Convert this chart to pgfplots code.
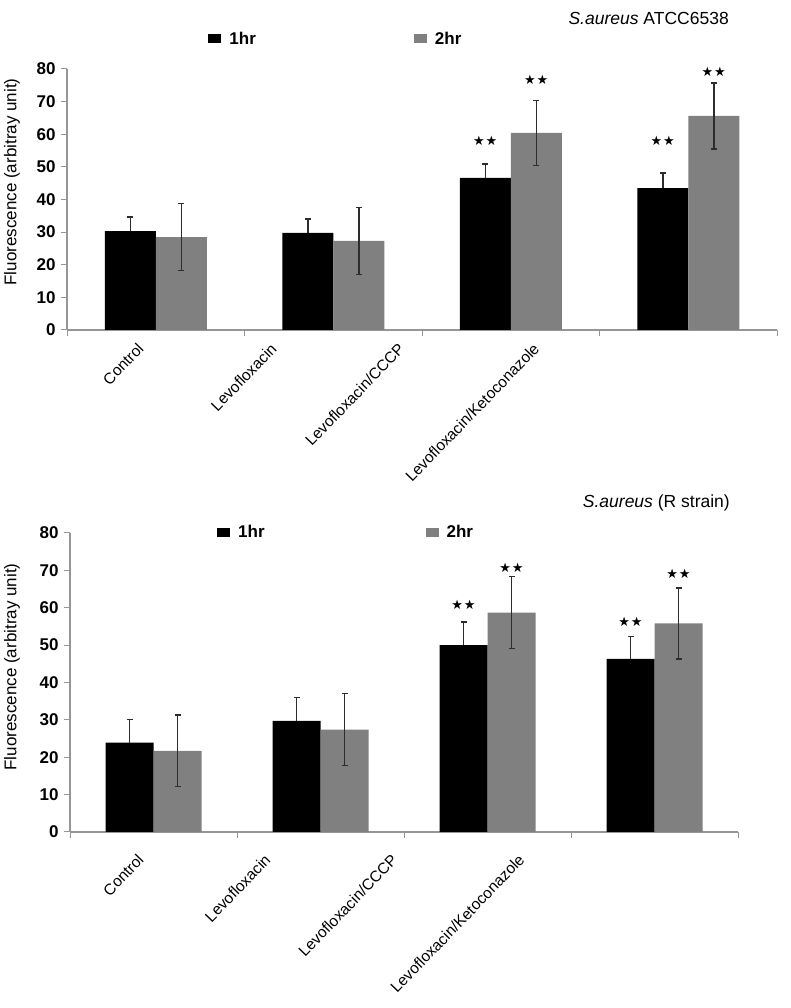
\documentclass[border=0pt]{standalone}
\usepackage{pgfplots}
\pgfplotsset{compat=1.18}
\usepackage{fontspec}
\setmainfont{Liberation Sans}
\newfontfamily\dejavu{DejaVu Sans}
\definecolor{bargray}{RGB}{128,128,128}
\definecolor{axgray}{RGB}{150,150,150}
\definecolor{errc}{RGB}{45,45,45}
\newcommand{\stars}{{\dejavu\fontsize{13}{13}\selectfont ★\hspace{1pt}★}}
\pgfplotsset{
  catlabels/.style={
    extra x tick labels={Control,Levofloxacin,Levofloxacin/CCCP,Levofloxacin/Ketoconazole},
    extra x tick style={major tick length=0pt,
      xticklabel style={xshift=-7pt, yshift=#1, rotate=46, anchor=north east, inner sep=0pt,
        font=\fontsize{15.5}{15.5}\selectfont}}},
  myaxis/.style={
    scale only axis, anchor=south west,
    xmin=0, xmax=4, ymin=0, ymax=80,
    ytick={0,10,...,80},
    xtick={0,1,2,3,4}, xticklabels={,,,,,},
    axis lines*=left,
    axis line style={axgray, line width=1.3pt},
    tick style={axgray, line width=1pt},
    major tick length=6pt,
    tick align=outside,
    /pgf/number format/assume math mode=true,
    yticklabel style={font=\fontsize{17}{17}\selectfont\bfseries, xshift=-2pt},
    ylabel={Fluorescence (arbitray unit)},
    ylabel style={font=\fontsize{17}{17}\selectfont, anchor=center},
    ybar, bar width=51pt,
    clip=false,
    legend columns=2,
    legend style={draw=none, fill=none, inner sep=0pt, anchor=west,
      font=\fontsize{17}{17}\selectfont\bfseries,
      /tikz/every even column/.append style={column sep=156pt},
      /tikz/every odd column/.append style={column sep=6pt}},
    legend image code/.code={\fill[##1] (0pt,-4.5pt) rectangle (13pt,4.5pt);},
  },
  ebplus/.style={error bars/.cd, y dir=plus, y explicit,
    error bar style={errc, line width=1.5pt},
    error mark options={rotate=90, mark size=3pt, errc, line width=1.3pt}},
  ebboth/.style={error bars/.cd, y dir=both, y explicit,
    error bar style={errc, line width=1.5pt},
    error mark options={rotate=90, mark size=3pt, errc, line width=1.3pt}},
}
\begin{document}
\begin{tikzpicture}[x=1pt,y=1pt]
\useasboundingbox (0,0) rectangle (791,1008);
% ---------------- top panel ----------------
\begin{axis}[myaxis, at={(67pt,678pt)}, width=710pt, height=261pt,
  bar width=51pt,
  extra x ticks={0.43,1.18,1.90,2.66}, catlabels=-12pt,
  ylabel style={at={(rel axis cs:-0.0775,0.567)}},
  legend style={at={(rel axis cs:0.199,1.115)}}]
\addplot[fill=black, draw=none, bar shift=-25.5pt, ebplus] coordinates {
  (0.5,30.3) +- (0,4.3)
  (1.5,29.8) +- (0,4.2)
  (2.5,46.6) +- (0,4.3)
  (3.5,43.5) +- (0,4.6)};
\addplot[fill=bargray, draw=none, bar shift=25.5pt, ebboth] coordinates {
  (0.5,28.5) +- (0,10.2)
  (1.5,27.3) +- (0,10.3)
  (2.5,60.4) +- (0,10.0)
  (3.5,65.6) +- (0,10.1)};
\legend{1hr,2hr}
\node[xshift=-25.5pt] at (axis cs:2.5,58) {\stars};
\node[xshift=25.5pt] at (axis cs:2.5,76.7) {\stars};
\node[xshift=-25.5pt] at (axis cs:3.5,58) {\stars};
\node[xshift=25.5pt] at (axis cs:3.5,79) {\stars};
\node[anchor=east, font=\fontsize{17.5}{17.5}\selectfont] at (rel axis cs:0.937,1.195) {\textit{S.aureus} ATCC6538};
\end{axis}
% ---------------- bottom panel ----------------
\begin{axis}[myaxis, at={(70pt,176pt)}, width=668pt, height=299pt,
  bar width=48pt,
  extra x ticks={0.44,1.20,1.96,2.72}, catlabels=-21pt,
  ylabel style={at={(rel axis cs:-0.0868,0.552)}},
  legend style={at={(rel axis cs:0.22,1.003)},
    /tikz/every even column/.append style={column sep=159pt}}]
\addplot[fill=black, draw=none, bar shift=-24pt, ebplus] coordinates {
  (0.5,23.9) +- (0,6.2)
  (1.5,29.7) +- (0,6.2)
  (2.5,50.0) +- (0,6.2)
  (3.5,46.3) +- (0,6.1)};
\addplot[fill=bargray, draw=none, bar shift=24pt, ebboth] coordinates {
  (0.5,21.7) +- (0,9.6)
  (1.5,27.4) +- (0,9.6)
  (2.5,58.7) +- (0,9.6)
  (3.5,55.8) +- (0,9.5)};
\legend{1hr,2hr}
\node[xshift=-24pt] at (axis cs:2.5,60.7) {\stars};
\node[xshift=24pt] at (axis cs:2.5,70.7) {\stars};
\node[xshift=-24pt] at (axis cs:3.5,56.2) {\stars};
\node[xshift=24pt] at (axis cs:3.5,69) {\stars};
\node[anchor=east, font=\fontsize{17.5}{17.5}\selectfont] at (rel axis cs:0.993,1.10) {\textit{S.aureus} (R strain)};
\end{axis}
\end{tikzpicture}
\end{document}
